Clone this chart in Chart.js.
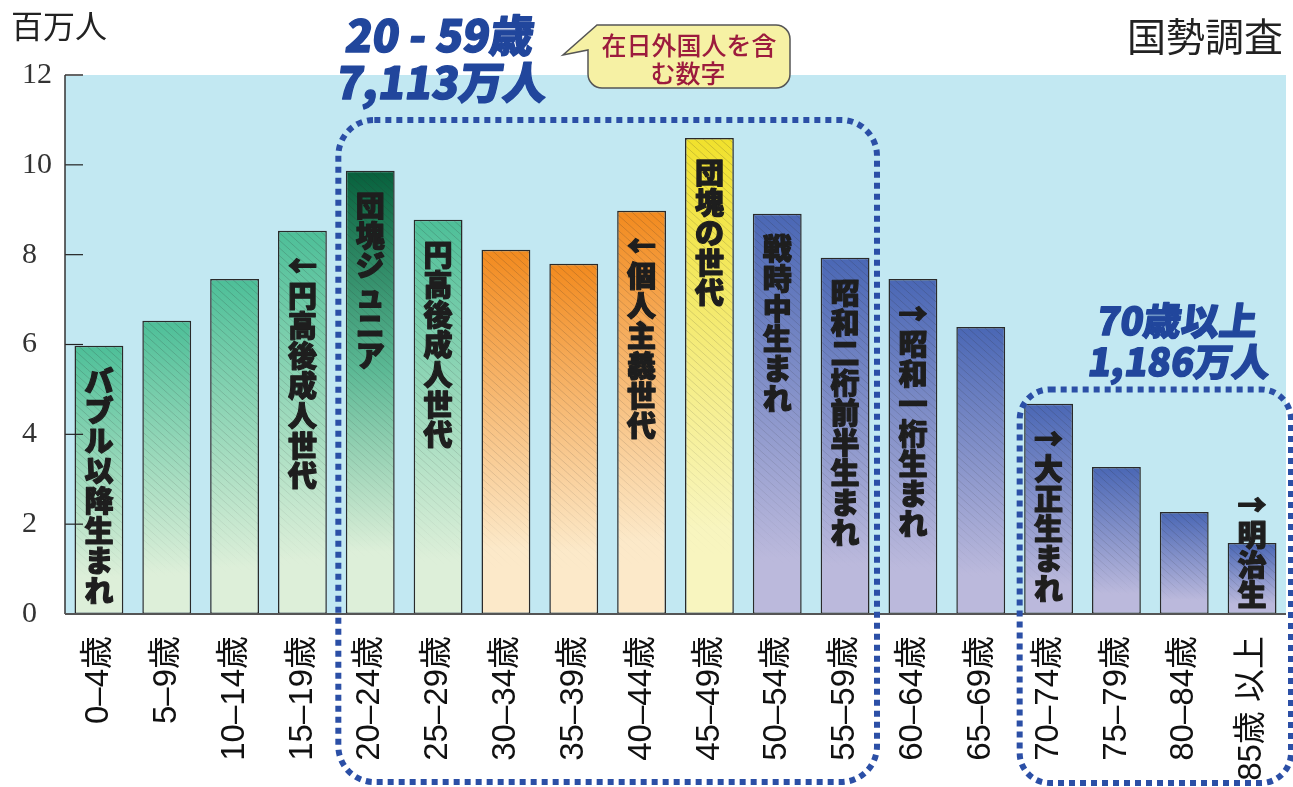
<!DOCTYPE html>
<html lang="ja">
<head>
<meta charset="utf-8">
<title>国勢調査 年齢別人口</title>
<script src="https://cdn.jsdelivr.net/npm/chart.js@4.4.0/dist/chart.umd.min.js"></script>
<style>
  html, body { margin: 0; padding: 0; background: #fff; }
  #wrap { width: 1293px; height: 787px; position: relative; overflow: hidden; }
</style>
</head>
<body>
<div id="wrap"><canvas id="popChart" width="1293" height="787"></canvas></div>
<script>
(function(){
    const ageLabels = ["0–4歳","5–9歳","10–14歳","15–19歳","20–24歳","25–29歳","30–34歳","35–39歳","40–44歳",
                       "45–49歳","50–54歳","55–59歳","60–64歳","65–69歳","70–74歳","75–79歳","80–84歳","85歳 以上"];
    // 百万人
    const population = [5.97, 6.53, 7.46, 8.53, 9.87, 8.78, 8.11, 7.80, 8.98,
                        10.60, 8.91, 7.93, 7.46, 6.39, 4.68, 3.27, 2.27, 1.58];
    const generationNotes = ["バブル以降生まれ","","","←円高後成人世代","団塊ジュニア","円高後成人世代","","","←個人主義世代",
                             "団塊の世代","戦時中生まれ","昭和二桁前半生まれ","→昭和一桁生まれ","","→大正生まれ","","","→明治生"];
    const barTones = ["green","green","green","green","darkgreen","green","orange","orange","orange",
                      "yellow","blue","blue","blue","blue","blue","blue","blue","blue"];
    const yTicks = [0, 2, 4, 6, 8, 10, 12];

    const tones = {
        green:     [[0, "#4dbf98"], [0.86, "#ddefd9"]],
        darkgreen: [[0, "#07603c"], [0.45, "#5cb995"], [0.86, "#ddefd9"]],
        orange:    [[0, "#f28a1e"], [0.82, "#fce9c9"]],
        yellow:    [[0, "#f1e12c"], [0.82, "#f8f5bf"]],
        blue:      [[0, "#4a67b5"], [0.86, "#bbb9dc"]]
    };
    const cjk = "'Noto Sans CJK JP', 'Noto Sans CJK SC', sans-serif";
    const dotBlue = "#2b4fa6";
    const bigBlue = "#21469c";

    function barFill(c) {
        const chart = c.chart;
        if (!chart.chartArea) return "#ccc";
        const y = chart.scales.y;
        const top = y.getPixelForValue(population[c.dataIndex]);
        const base = y.getPixelForValue(0);
        const g = chart.ctx.createLinearGradient(0, top, 0, base);
        tones[barTones[c.dataIndex]].forEach(s => g.addColorStop(s[0], s[1]));
        return g;
    }

    function roundedPath(ctx, l, t, r, b, rad) {
        ctx.beginPath();
        ctx.moveTo(l + rad, t);
        ctx.lineTo(r - rad, t);
        ctx.arcTo(r, t, r, t + rad, rad);
        ctx.lineTo(r, b - rad);
        ctx.arcTo(r, b, r - rad, b, rad);
        ctx.lineTo(l + rad, b);
        ctx.arcTo(l, b, l, b - rad, rad);
        ctx.lineTo(l, t + rad);
        ctx.arcTo(l, t, l + rad, t, rad);
        ctx.closePath();
    }

    function slantText(ctx, text, cx, cy, size) {
        ctx.save();
        ctx.translate(cx, cy);
        ctx.transform(1, 0, -0.14, 1, 0, 0);
        ctx.font = "900 " + size + "px " + cjk;
        ctx.textAlign = "center";
        ctx.textBaseline = "middle";
        ctx.fillStyle = bigBlue;
        ctx.strokeStyle = bigBlue;
        ctx.lineWidth = 1.4;
        ctx.lineJoin = "round";
        ctx.strokeText(text, 0, 0);
        ctx.fillText(text, 0, 0);
        ctx.restore();
    }

    const plotBackground = {
        id: "plotBackground",
        beforeDatasetsDraw(chart) {
            const { ctx, chartArea: a } = chart;
            ctx.save();
            ctx.fillStyle = "#c2e8f2";
            ctx.fillRect(a.left, a.top, a.right - a.left, a.bottom - a.top);
            ctx.restore();
        }
    };

    const decorations = {
        id: "decorations",
        afterDatasetsDraw(chart) {
            const { ctx, chartArea: a } = chart;
            const xs = chart.scales.x, ys = chart.scales.y;
            const meta = chart.getDatasetMeta(0);

            // hatching inside bars
            meta.data.forEach(el => {
                const p = el.getProps(["x", "y", "base", "width"], true);
                const l = p.x - p.width / 2, r = p.x + p.width / 2;
                const h = p.base - p.y;
                ctx.save();
                ctx.beginPath();
                ctx.rect(l + 1, p.y + 1, p.width - 2, h - 2);
                ctx.clip();
                const g = ctx.createLinearGradient(0, p.y, 0, p.base);
                g.addColorStop(0, "rgba(40,40,40,0.32)");
                g.addColorStop(0.6, "rgba(40,40,40,0.22)");
                g.addColorStop(0.88, "rgba(40,40,40,0)");
                ctx.strokeStyle = g;
                ctx.lineWidth = 0.6;
                ctx.beginPath();
                for (let x0 = l - h; x0 < r; x0 += 8.5) {
                    ctx.moveTo(x0, p.y);
                    ctx.lineTo(x0 + h, p.y + h * 0.9);
                }
                ctx.stroke();
                ctx.restore();
            });

            // generation notes, stacked vertically
            ctx.save();
            ctx.font = "900 29px " + cjk;
            ctx.textAlign = "center";
            ctx.textBaseline = "middle";
            ctx.fillStyle = "#1e1e1e";
            ctx.strokeStyle = "#1e1e1e";
            ctx.lineWidth = 1.2;
            ctx.lineJoin = "round";
            meta.data.forEach((el, i) => {
                const chars = Array.from(generationNotes[i]);
                if (!chars.length) return;
                const p = el.getProps(["x", "y", "base"], true);
                const pitch = 30;
                const start = Math.min(p.y + 35, p.base - 19 - (chars.length - 1) * pitch);
                chars.forEach((ch, k) => {
                    ctx.strokeText(ch, p.x, start + k * pitch);
                    ctx.fillText(ch, p.x, start + k * pitch);
                });
            });
            ctx.restore();

            // axes and inner tick marks
            ctx.save();
            yTicks.forEach(v => {
                if (v === 0) return;
                const ty = ys.getPixelForValue(v);
                ctx.strokeStyle = v === 12 ? "#666" : "#222";
                ctx.lineWidth = v === 12 ? 2 : 1.2;
                ctx.beginPath();
                ctx.moveTo(a.left, ty);
                ctx.lineTo(a.left + 18, ty);
                ctx.stroke();
            });
            ctx.strokeStyle = "#333";
            ctx.lineWidth = 1.5;
            ctx.beginPath();
            ctx.moveTo(a.left, a.top);
            ctx.lineTo(a.left, a.bottom);
            ctx.stroke();
            ctx.strokeStyle = "#555";
            ctx.lineWidth = 2;
            ctx.beginPath();
            ctx.moveTo(a.left, a.bottom);
            ctx.lineTo(a.right, a.bottom);
            ctx.stroke();
            ctx.restore();

            // dotted group frames
            const step = xs.getPixelForValue(1) - xs.getPixelForValue(0);
            const edge = i => xs.getPixelForValue(i) - step / 2;
            ctx.save();
            ctx.strokeStyle = dotBlue;
            ctx.lineWidth = 6;
            ctx.setLineDash([6, 5]);
            const b1 = { l: edge(4) + 2, r: edge(12) - 2, t: ys.getPixelForValue(11), b: 782 };
            roundedPath(ctx, b1.l, b1.t, b1.r, b1.b, 36);
            ctx.stroke();
            const b2 = { l: edge(14) + 5, r: 1291, t: ys.getPixelForValue(5), b: 783 };
            roundedPath(ctx, b2.l, b2.t, b2.r, b2.b, 30);
            ctx.stroke();
            ctx.restore();

            slantText(ctx, "20 - 59歳", b1.l + 102, 35, 44);
            slantText(ctx, "7,113万人", b1.l + 104, 82, 44);
            slantText(ctx, "70歳以上", b2.l + 158, 321, 38);
            slantText(ctx, "1,186万人", b2.l + 160, 362, 38);

            // speech bubble
            ctx.save();
            ctx.beginPath();
            ctx.moveTo(597, 25);
            ctx.lineTo(776, 25);
            ctx.arcTo(790, 25, 790, 39, 14);
            ctx.lineTo(790, 74);
            ctx.arcTo(790, 88, 776, 88, 14);
            ctx.lineTo(602, 88);
            ctx.arcTo(588, 88, 588, 74, 14);
            ctx.lineTo(588, 50);
            ctx.lineTo(563, 55);
            ctx.closePath();
            ctx.fillStyle = "#f6f1a4";
            ctx.fill();
            ctx.strokeStyle = "#555";
            ctx.lineWidth = 1.5;
            ctx.stroke();
            ctx.fillStyle = "#9c1b3d";
            ctx.font = "500 25px " + cjk;
            ctx.textAlign = "center";
            ctx.textBaseline = "middle";
            ctx.fillText("在日外国人を含", 689, 45);
            ctx.fillText("む数字", 688, 73);
            ctx.restore();

            // titles
            ctx.save();
            ctx.fillStyle = "#222";
            ctx.textBaseline = "middle";
            ctx.font = "32px " + cjk;
            ctx.textAlign = "left";
            ctx.fillText("百万人", 11, 26);
            ctx.font = "39px " + cjk;
            ctx.textAlign = "right";
            ctx.fillText("国勢調査", 1283, 36);
            ctx.restore();
        }
    };

    new Chart(document.getElementById("popChart"), {
        type: "bar",
        data: {
            labels: ageLabels,
            datasets: [{
                data: population,
                backgroundColor: barFill,
                borderColor: "#2a2a2a",
                borderWidth: 1.5,
                borderSkipped: false,
                barPercentage: 0.72,
                categoryPercentage: 1.0
            }]
        },
        options: {
            responsive: false,
            animation: false,
            events: [],
            layout: { padding: { left: 22, top: 75, right: 7, bottom: 0 } },
            plugins: { legend: { display: false }, tooltip: { enabled: false } },
            scales: {
                x: {
                    grid: { display: false, drawTicks: false },
                    border: { display: false },
                    ticks: {
                        autoSkip: false,
                        minRotation: 90,
                        maxRotation: 90,
                        padding: 22,
                        color: "#111",
                        font: { family: "'Liberation Sans', " + cjk, size: 33 }
                    },
                    afterFit: s => { s.height = 173; s.paddingLeft = 0; s.paddingRight = 0; }
                },
                y: {
                    min: 0,
                    max: 12,
                    grid: { display: false, drawTicks: false },
                    border: { display: false },
                    ticks: {
                        stepSize: 2,
                        padding: 0,
                        crossAlign: "far",
                        color: "#333",
                        font: { family: "'Liberation Serif', serif", size: 30 }
                    },
                    afterFit: s => { s.width = 43; }
                }
            }
        },
        plugins: [plotBackground, decorations]
    });
})();
</script>
</body>
</html>
